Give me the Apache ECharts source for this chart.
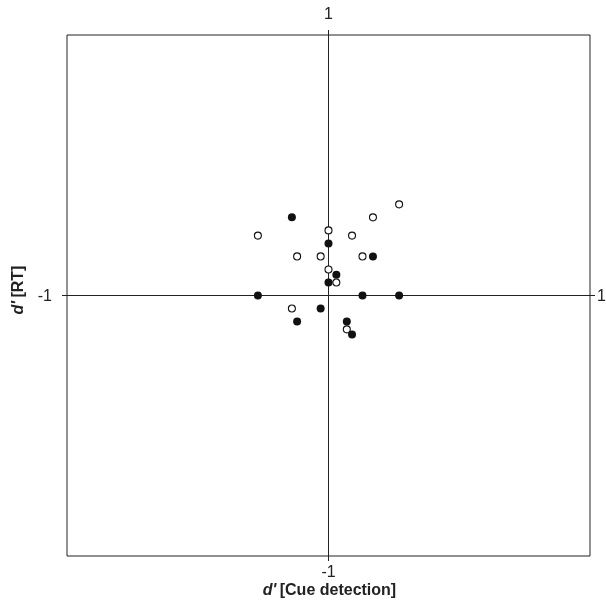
<!DOCTYPE html>
<html><head><meta charset="utf-8">
<script src="https://cdn.jsdelivr.net/npm/echarts@6/dist/echarts.min.js"></script>
<style>html,body{margin:0;padding:0;background:#fff}#c{width:606px;height:604px}</style>
</head><body><div id="c"></div>
<script>
const openX = [0.27, 0.17, -0.27, 0.00, 0.09, -0.12, -0.03, 0.13, 0.00, 0.03, -0.14, 0.07];
const openY = [0.35, 0.30, 0.23, 0.25, 0.23, 0.15, 0.15, 0.15, 0.10, 0.05, -0.05, -0.13];
const filledX = [-0.14, 0.00, 0.17, 0.03, 0.00, -0.27, 0.13, 0.27, -0.03, -0.12, 0.07, 0.09];
const filledY = [0.30, 0.20, 0.15, 0.08, 0.05, 0.00, 0.00, 0.00, -0.05, -0.10, -0.10, -0.15];
const axisMin = -1, axisMax = 1;
const endLabels = {top: '1', bottom: '-1', left: '-1', right: '1'};

const chart = echarts.init(document.getElementById('c'));
const font = 'Liberation Sans, Arial, sans-serif';
const zip = (xs, ys) => xs.map((x, i) => [x, ys[i]]);
const lineCol = '#222';
chart.setOption({
  animation: false,
  grid: {left: 67, right: 16, top: 35, bottom: 48, show: true, borderColor: lineCol, borderWidth: 1, backgroundColor: 'transparent'},
  xAxis: {type: 'value', min: axisMin, max: axisMax, interval: 1,
    axisLine: {show: true, onZero: true, lineStyle: {color: lineCol, width: 1}},
    axisTick: {show: false}, axisLabel: {show: false}, splitLine: {show: false}},
  yAxis: {type: 'value', min: axisMin, max: axisMax, interval: 1,
    axisLine: {show: true, onZero: true, lineStyle: {color: lineCol, width: 1}},
    axisTick: {show: false}, axisLabel: {show: false}, splitLine: {show: false}},
  series: [
    {type: 'scatter', data: zip(openX, openY), symbol: 'circle', symbolSize: 7,
     itemStyle: {color: '#fff', borderColor: '#111', borderWidth: 1.1, opacity: 1}, z: 3},
    {type: 'scatter', data: zip(filledX, filledY), symbol: 'circle', symbolSize: 8,
     itemStyle: {color: '#111', borderColor: '#111', borderWidth: 0, opacity: 1}, z: 4}
  ]
});

const c = chart.convertToPixel({gridIndex: 0}, [0, 0]);
const tl = chart.convertToPixel({gridIndex: 0}, [axisMin, axisMax]);
const br = chart.convertToPixel({gridIndex: 0}, [axisMax, axisMin]);
const stub = 5;
const txt = (x, y, text, align, extra) => Object.assign({type: 'text', x: x, y: y,
  style: {text: text, fill: '#222', font: '16px ' + font, align: align, verticalAlign: 'middle'}}, extra || {});
chart.setOption({graphic: [
  {type: 'line', shape: {x1: c[0], y1: tl[1] - stub, x2: c[0], y2: tl[1]}, style: {stroke: lineCol, lineWidth: 1}},
  {type: 'line', shape: {x1: c[0], y1: br[1], x2: c[0], y2: br[1] + stub}, style: {stroke: lineCol, lineWidth: 1}},
  {type: 'line', shape: {x1: tl[0] - stub, y1: c[1], x2: tl[0], y2: c[1]}, style: {stroke: lineCol, lineWidth: 1}},
  {type: 'line', shape: {x1: br[0], y1: c[1], x2: br[0] + stub, y2: c[1]}, style: {stroke: lineCol, lineWidth: 1}},
  txt(c[0], tl[1] - 20, endLabels.top, 'center'),
  txt(c[0], br[1] + 17, endLabels.bottom, 'center'),
  txt(tl[0] - 15, c[1] + 1, endLabels.left, 'right'),
  txt(br[0] + 7, c[1] + 1, endLabels.right, 'left'),
  {type: 'text', x: c[0] + 1, y: 591, style: {
    text: "{i|d'} {b|[Cue detection]}", align: 'center', verticalAlign: 'middle',
    rich: {i: {font: 'italic bold 16px ' + font, fill: '#222'}, b: {font: 'bold 16px ' + font, fill: '#222'}}}},
  {type: 'text', x: 19, y: 290, rotation: Math.PI / 2, style: {
    text: "{i|d'} {b|[RT]}", align: 'center', verticalAlign: 'middle',
    rich: {i: {font: 'italic bold 16px ' + font, fill: '#222'}, b: {font: 'bold 16px ' + font, fill: '#222'}}}}
]});
</script></body></html>
